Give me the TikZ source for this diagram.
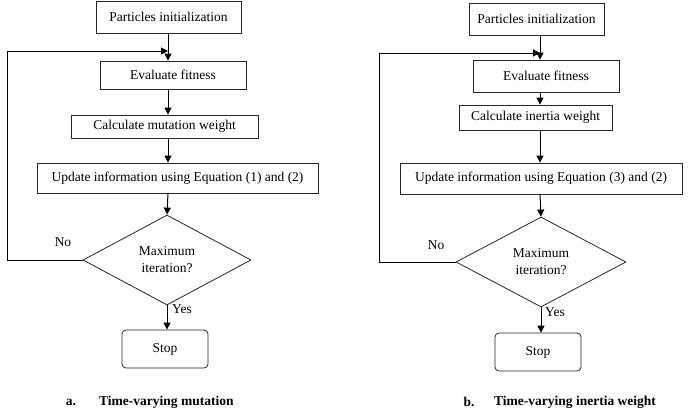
\documentclass[tikz,border=0pt]{standalone}
\usepackage{fontspec}
\setmainfont{Liberation Serif}
\usetikzlibrary{shapes.geometric,arrows.meta}
\begin{document}
\begin{tikzpicture}[x=1pt,y=-1pt,
  font=\fontsize{13.5}{17}\selectfont,
  box/.style={draw=black!85,line width=0.8pt,inner sep=0pt,minimum width=#1},
  dec/.style={draw=black!85,line width=0.8pt,diamond,inner sep=0pt,aspect=1.87,align=center},
  stopbox/.style={draw=black!85,line width=0.8pt,rounded corners=4pt,inner sep=0pt,minimum width=86pt,minimum height=38pt},
  arr/.style={draw=black,line width=1pt,-{Triangle[length=7pt,width=7pt]}},
  lbl/.style={inner sep=0pt},
  captext/.style={inner sep=0pt,font=\fontsize{13.5}{16}\selectfont\bfseries}]
\useasboundingbox (0,0) rectangle (689,416);
% ---------- left ----------
\coordinate (colA) at (168,0);
\node[box=145pt,minimum height=32pt] (iA) at (168.5,17) {Particles initialization};
\node[box=146pt,minimum height=28pt] (eA) at (173,75) {Evaluate fitness};
\node[box=187pt,minimum height=23pt] (cA) at (164.5,126.5) {Calculate mutation weight};
\node[box=281pt,minimum height=30pt] (uA) at (177.5,178) {Update information using Equation (1) and (2)};
\node[dec,minimum width=168pt,minimum height=90pt] (dA) at (167,260) {Maximum\\iteration?};
\node[stopbox] (sA) at (165,349) {Stop};
\coordinate (jA) at (168,51);
\draw[arr] (iA.south -| colA) -- (eA.north -| colA);
\draw[arr] (eA.south -| colA) -- (cA.north -| colA);
\draw[arr] (cA.south -| colA) -- (uA.north -| colA);
\draw[arr] (uA.south -| colA) -- (dA.north);
\draw[arr] (dA.south) -- (sA.north -| dA.south);
\draw[arr] (dA.west) -- (7,260) |- (jA);
\node[lbl] (noA) at (63,242) {No};
\node[lbl,anchor=west] (yesA) at (172,309) {Yes};
\node[captext] (aA) at (71,402) {a.};
\node[captext,anchor=west] (tA) at (99,402) {Time-varying mutation};
% ---------- right ----------
\coordinate (colB) at (540,0);
\node[box=135pt,minimum height=32pt] (iB) at (536.5,19) {Particles initialization};
\node[box=146pt,minimum height=32pt] (eB) at (546,76) {Evaluate fitness};
\node[box=153pt,minimum height=25pt] (cB) at (535.5,117.5) {Calculate inertia weight};
\node[box=282pt,minimum height=31pt] (uB) at (541,178.5) {Update information using Equation (3) and (2)};
\node[dec,minimum width=170pt,minimum height=90pt] (dB) at (541,262) {Maximum\\iteration?};
\node[stopbox] (sB) at (538,352) {Stop};
\coordinate (jB) at (540,53);
\draw[arr] (iB.south -| colB) -- (eB.north -| colB);
\draw[arr] (eB.south -| colB) -- (cB.north -| colB);
\draw[arr] (cB.south -| colB) -- (uB.north -| colB);
\draw[arr] (uB.south -| colB) -- (dB.north);
\draw[arr] (dB.south) -- (sB.north -| dB.south);
\draw[arr] (dB.west) -- (379,262) |- (jB);
\node[lbl] (noB) at (436,245) {No};
\node[lbl,anchor=west] (yesB) at (545,312) {Yes};
\node[captext] (aB) at (469,402) {b.};
\node[captext,anchor=west] (tB) at (494,402) {Time-varying inertia weight};
\end{tikzpicture}
\end{document}
